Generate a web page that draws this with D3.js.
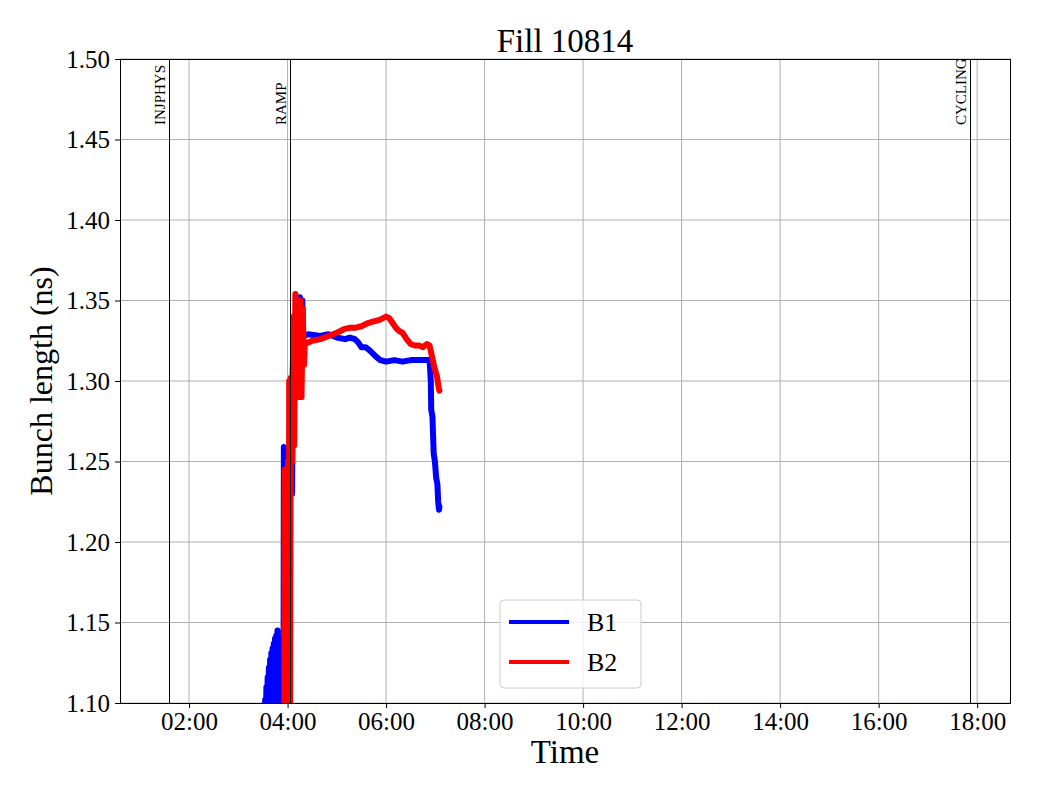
<!DOCTYPE html>
<html>
<head>
<meta charset="utf-8">
<script src="https://cdn.jsdelivr.net/npm/d3@7"></script>
<style>
  body { margin: 0; background: #fff; }
  text { font-family: "Liberation Serif", "Times New Roman", serif; }
</style>
</head>
<body>
<div id="canvas"></div>
<script>
// --- data
var title = 'Fill 10814';
var yTicks = [1.10, 1.15, 1.20, 1.25, 1.30, 1.35, 1.40, 1.45, 1.50];
var xTicks = ['02:00', '04:00', '06:00', '08:00', '10:00', '12:00', '14:00', '16:00', '18:00'];
var xDomain = ['00:35:54', '18:40:00'];

var events = [
  {t: '01:35:36', name: 'INJPHYS'},
  {t: '04:03:00', name: 'RAMP'},
  {t: '17:51:30', name: 'CYCLING'}
];

var b1Times = ['03:32:00','03:32:45','03:33:30','03:34:15','03:35:00','03:35:45','03:36:30','03:37:15','03:38:00',
  '03:38:45','03:39:30','03:40:15','03:41:00','03:41:45','03:42:30','03:43:15','03:44:00','03:44:45','03:45:30',
  '03:46:15','03:47:00','03:47:45','03:48:30',
  '03:55:00','03:55:30','03:56:30','03:57:30','03:58:30','04:00:00','04:03:00','04:05:30','04:06:30','04:07:30',
  '04:08:30','04:10:00','04:11:00','04:12:30','04:13:30','04:15:00','04:16:30','04:18:00','04:19:00','04:25:00',
  '04:40:00','04:50:00','05:00:00','05:10:00','05:16:00','05:22:00','05:26:00','05:30:00','05:35:00','05:40:00',
  '05:44:00','05:48:00','05:53:00','06:00:00','06:10:00','06:20:00','06:30:00','06:40:00',
  '06:53:00','06:54:30','06:55:00','06:56:30','06:57:00','06:58:00','06:59:30','07:01:00','07:02:30','07:03:30',
  '07:04:30','07:05:00'];
var b1Values = [1.090,1.102,1.090,1.110,1.090,1.116,1.090,1.122,1.091,
  1.127,1.092,1.131,1.093,1.134,1.094,1.137,1.095,1.140,1.096,
  1.142,1.097,1.145,1.090,
  1.090,1.259,1.258,1.090,1.240,1.200,1.250,1.230,1.310,1.290,
  1.315,1.300,1.352,1.350,1.320,1.352,1.330,1.350,1.328,1.329,
  1.328,1.329,1.327,1.326,1.327,1.326,1.324,1.321,1.321,1.319,
  1.317,1.315,1.313,1.312,1.313,1.312,1.313,1.313,
  1.313,1.300,1.282,1.278,1.270,1.255,1.250,1.240,1.236,1.225,
  1.220,1.222];

var b2Times = ['03:56:00','03:56:30','03:57:30','03:58:30','03:59:30','04:00:30','04:01:30','04:02:00','04:03:00',
  '04:04:00','04:05:30','04:07:00','04:08:00','04:09:30','04:11:00','04:12:30','04:14:00','04:15:30','04:17:00',
  '04:18:30','04:20:00','04:21:00','04:30:00','04:40:00','04:50:00','05:00:00','05:08:00','05:15:00','05:22:00',
  '05:30:00','05:38:00','05:45:00','05:52:00','06:00:00','06:04:00','06:08:00','06:12:00','06:16:00','06:20:00',
  '06:25:00','06:30:00','06:35:00','06:40:00','06:45:00','06:50:00','06:53:00','06:56:00','06:59:00',
  '07:02:00','07:04:00','07:05:00'];
var b2Values = [1.090,1.245,1.090,1.245,1.090,1.250,1.090,1.300,1.090,
  1.302,1.250,1.340,1.260,1.354,1.300,1.345,1.290,1.350,1.290,
  1.345,1.310,1.323,1.325,1.326,1.328,1.330,1.332,1.333,1.333,
  1.334,1.336,1.337,1.338,1.340,1.339,1.336,1.333,1.331,1.330,
  1.326,1.323,1.322,1.322,1.321,1.323,1.322,1.315,1.308,
  1.303,1.296,1.294];

var seriesNames = ['B1', 'B2'];
var seriesColors = ['#0000ff', '#ff0000'];

// --- layout
var M = {top: 59, right: 30, bottom: 97, left: 120};
var outerWidth = 1040, outerHeight = 800;
var w = outerWidth - M.left - M.right,
    h = outerHeight - M.top - M.bottom;

var parse = d3.timeParse('%H:%M:%S');
var parseTick = d3.timeParse('%H:%M');

var x = d3.scaleTime().domain(xDomain.map(parse)).range([0, w]);
var y = d3.scaleLinear().domain([1.10, 1.50]).range([h, 0]);

var svg = d3.select('#canvas')
  .append('svg')
  .attr('width', outerWidth)
  .attr('height', outerHeight);

var plot = svg.append('g')
  .attr('transform', 'translate(' + M.left + ',' + M.top + ')');

// grid
plot.append('g').selectAll('line').data(xTicks).join('line')
  .attr('x1', function(d) { return x(parseTick(d)); })
  .attr('x2', function(d) { return x(parseTick(d)); })
  .attr('y1', 0).attr('y2', h)
  .style('stroke', '#b0b0b0').style('stroke-width', 1);
plot.append('g').selectAll('line').data(yTicks).join('line')
  .attr('x1', 0).attr('x2', w)
  .attr('y1', function(d) { return y(d); })
  .attr('y2', function(d) { return y(d); })
  .style('stroke', '#b0b0b0').style('stroke-width', 1);

// clip for data
svg.append('defs').append('clipPath').attr('id', 'clip')
  .append('rect').attr('x', 0).attr('y', 0).attr('width', w).attr('height', h);

var data = [
  b1Times.map(function(t, i) { return {t: parse(t), v: b1Values[i]}; }),
  b2Times.map(function(t, i) { return {t: parse(t), v: b2Values[i]}; })
];

var line = d3.line()
  .x(function(d) { return x(d.t); })
  .y(function(d) { return y(d.v); });

var dataG = plot.append('g').attr('clip-path', 'url(#clip)');
data.forEach(function(s, i) {
  dataG.append('path')
    .attr('d', line(s))
    .style('fill', 'none')
    .style('stroke', seriesColors[i])
    .style('stroke-width', 6)
    .style('stroke-linejoin', 'round')
    .style('stroke-linecap', 'round');
});

// event markers
var ev = plot.append('g').selectAll('g').data(events).join('g');
ev.append('line')
  .attr('x1', function(d) { return Math.round(x(parse(d.t))) + 0.5; })
  .attr('x2', function(d) { return Math.round(x(parse(d.t))) + 0.5; })
  .attr('y1', 0).attr('y2', h)
  .style('stroke', '#000').style('stroke-width', 1);
ev.append('text')
  .attr('transform', function(d) { return 'translate(' + (x(parse(d.t)) - 4) + ',66) rotate(-90)'; })
  .style('font-size', '15px')
  .text(function(d) { return d.name; });

// axes
var xAxis = d3.axisBottom(x)
  .tickValues(xTicks.map(parseTick))
  .tickFormat(d3.timeFormat('%H:%M'))
  .tickSize(5).tickPadding(4);
var yAxis = d3.axisLeft(y)
  .tickValues(yTicks)
  .tickFormat(d3.format('.2f'))
  .tickSize(5).tickPadding(5);

var gx = plot.append('g').attr('transform', 'translate(0,' + h + ')').call(xAxis);
var gy = plot.append('g').call(yAxis);
[gx, gy].forEach(function(g) {
  g.select('.domain').remove();
  g.selectAll('text').style('font-size', '25px').style('font-family', '"Liberation Serif", serif').attr('fill', '#000');
});

// frame
plot.append('rect')
  .attr('x', 0.5).attr('y', 0.5).attr('width', w).attr('height', h)
  .style('fill', 'none').style('stroke', '#000').style('stroke-width', 1);

// title and labels
svg.append('text')
  .attr('x', M.left + w / 2).attr('y', 52)
  .attr('text-anchor', 'middle')
  .style('font-size', '33px')
  .text(title);
svg.append('text')
  .attr('x', M.left + w / 2).attr('y', 763)
  .attr('text-anchor', 'middle')
  .style('font-size', '33px')
  .text('Time');
svg.append('text')
  .attr('transform', 'translate(52,' + (M.top + h / 2) + ') rotate(-90)')
  .attr('text-anchor', 'middle')
  .style('font-size', '32px')
  .text('Bunch length (ns)');

// legend
var leg = svg.append('g').attr('transform', 'translate(500,600)');
leg.append('rect')
  .attr('width', 141).attr('height', 88).attr('rx', 4)
  .style('fill', '#fff').style('fill-opacity', 0.8)
  .style('stroke', '#cccccc').style('stroke-width', 1);
seriesNames.forEach(function(n, i) {
  leg.append('line')
    .attr('x1', 9).attr('x2', 69)
    .attr('y1', 22 + i * 40).attr('y2', 22 + i * 40)
    .style('stroke', seriesColors[i]).style('stroke-width', 4);
  leg.append('text')
    .attr('x', 87).attr('y', 31 + i * 40)
    .style('font-size', '26px')
    .text(n);
});
</script>
</body>
</html>
